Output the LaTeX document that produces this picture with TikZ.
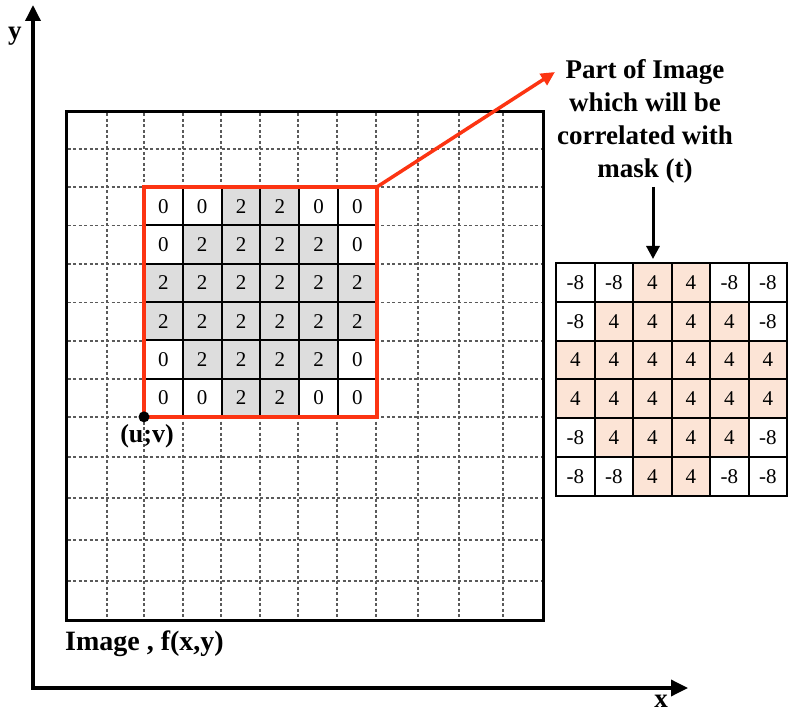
\documentclass[tikz,border=0pt]{standalone}
\usepackage{fontspec}
\setmainfont{Liberation Serif}
\usepackage{tikz}
\usetikzlibrary{arrows.meta,fit}

\definecolor{redbox}{RGB}{252,52,18}
\definecolor{cellgray}{RGB}{221,221,221}
\definecolor{maskpink}{RGB}{252,228,214}
\definecolor{gridgray}{RGB}{90,90,90}

\begin{document}
\begin{tikzpicture}[x=1pt, y=-1pt]

 \tikzset{
    frame/.style={draw, line width=3pt, inner sep=0pt, outer sep=0pt},
    gridline/.style={gridgray, line width=1.6pt, dash pattern=on 3pt off 2.5pt},
    imgcell/.style={draw, line width=2pt, inner sep=0pt, outer sep=0pt,
      minimum width=38.8pt, minimum height=38.3pt,
      font=\fontsize{21}{23}\selectfont},
    maskcell/.style={draw, line width=2pt, inner sep=0pt, outer sep=0pt,
      minimum width=38.5pt, minimum height=38.8pt,
      font=\fontsize{21}{23}\selectfont},
    cell0/.style={fill=white},
    cell2/.style={fill=cellgray},
    mask0/.style={fill=white},
    mask2/.style={fill=maskpink},
    part/.style={draw=redbox, line width=3.5pt, inner sep=0pt, outer sep=0pt},
    dot/.style={circle, fill, inner sep=0pt, minimum size=11pt},
    lbl/.style={inner sep=0pt, font=\fontsize{27}{33}\selectfont\bfseries},
    axis/.style={line width=3.5pt, line join=miter,
      {Triangle[length=16pt,width=15pt]}-{Triangle[length=17pt,width=16pt]}},
    redarrow/.style={redbox, line width=3.5pt, -{Triangle[length=14pt,width=13pt]}},
    downarrow/.style={line width=3pt, -{Triangle[length=13pt,width=13pt]}}
  }

\useasboundingbox (0,0) rectangle (788,714);

% axes
\coordinate (ytip) at (33,5);
\coordinate (origin) at (33,688);
\coordinate (xtip) at (688,688);
\draw[axis] (ytip) -- (origin) -- (xtip);
\node[lbl, anchor=base, font=\fontsize{27}{30}\selectfont\bfseries] (ylabel) at (15,40) {y};
\node[lbl, anchor=base, font=\fontsize{27}{30}\selectfont\bfseries] (xlabel) at (661,707) {x};

% image with its grid
\node[frame, minimum width=477pt, minimum height=508pt] (img) at (304.5,366) {};
\foreach \gx in {106.7,144,183,221,260,298,337,376,418,459,503}
    \draw[gridline] (\gx,113.5) -- (\gx,618.5);
\foreach \gy in {149,187,225.5,264,302.5,341,379,417,457,498,540,581}
    \draw[gridline] (67.5,\gy) -- (541.5,\gy);

% image part and mask
\foreach \row [count=\r from 0] in {{0,0,2,2,0,0},{0,2,2,2,2,0},{2,2,2,2,2,2},
                                    {2,2,2,2,2,2},{0,2,2,2,2,0},{0,0,2,2,0,0}}
    \foreach \v [count=\c from 0] in \row {
        \node[imgcell, cell\v] (i-\r-\c) at ({163.4+38.8*\c},{206.2+38.3*\r}) {\v};
        \node[maskcell, mask\v] (m-\r-\c) at ({575.3+38.5*\c},{282.4+38.8*\r})
            {\ifnum\v=2 4\else -8\fi};
    }

\node[part, fit=(i-0-0)(i-5-5)] (part) {};
\node[dot] (uv) at (part.south west) {};
\node[lbl, anchor=base, font=\fontsize{26}{30}\selectfont\bfseries] (uvtxt) at (147,442) {(u;v)};

\node[lbl, anchor=base west, font=\fontsize{28}{32}\selectfont\bfseries] (imgtxt) at (65,650) {Image , f(x,y)};

% label of the part and arrows
\node[lbl, align=center, anchor=north] (parttxt) at (645,59)
    {Part of Image\\which will be\\correlated with\\mask (t)};
\coordinate (tip) at (555,72);
\draw[redarrow] (part.north east) -- (tip);
\coordinate (dn) at (653,187);
\draw[downarrow] (dn) -- ([yshift=4pt]dn |- m-0-2.north);

\end{tikzpicture}
\end{document}
